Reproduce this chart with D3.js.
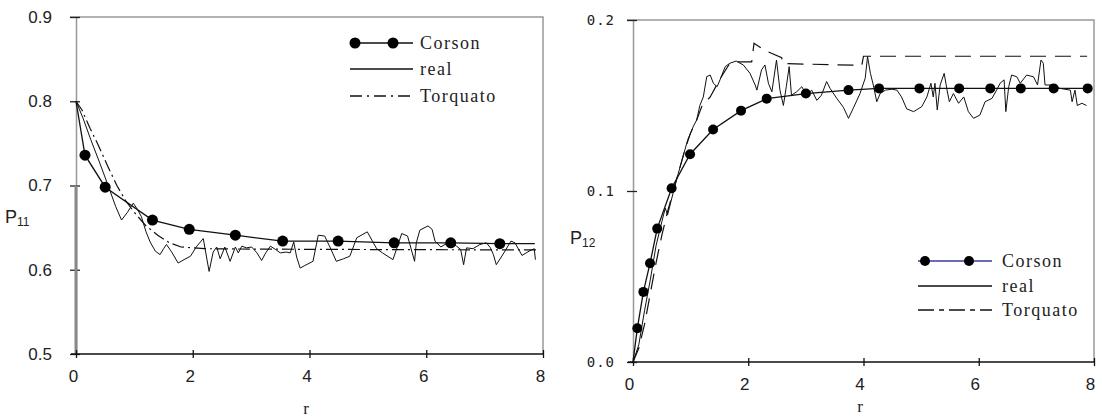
<!DOCTYPE html>
<html><head><meta charset="utf-8">
<script src="https://cdn.jsdelivr.net/npm/d3@7/dist/d3.min.js"></script>
<style>
html,body{margin:0;padding:0;background:#fff;}
svg{display:block;}
</style></head>
<body>
<svg id="chart" width="1102" height="419"></svg>
<script>
// ---------- DATA ----------
const xTicks = [0, 2, 4, 6, 8];
const leftYTicks = [0.5, 0.6, 0.7, 0.8, 0.9];
const rightYTicks = [0.0, 0.1, 0.2];
const legendNames = ["Corson", "real", "Torquato"];

// Left panel (P11)
const p11CorsonR = [0, 0.154, 0.5, 1.31, 1.94, 2.73, 3.54, 4.49, 5.45, 6.42, 7.26, 7.86];
const p11CorsonP = [0.8, 0.736, 0.698, 0.659, 0.648, 0.641, 0.634, 0.634, 0.632, 0.632, 0.631, 0.631];
const p11MarkR = [0.154, 0.5, 1.31, 1.94, 2.73, 3.54, 4.49, 5.45, 6.42, 7.26];
const p11MarkP = [0.736, 0.698, 0.659, 0.648, 0.641, 0.634, 0.634, 0.632, 0.632, 0.631];
const p11RealR = [0, 0.12, 0.25, 0.4, 0.55, 0.68, 0.78, 0.88, 0.98, 1.05, 1.12, 1.2, 1.27, 1.36, 1.44, 1.5, 1.55, 1.63, 1.75, 1.85, 1.96, 2.07, 2.18, 2.28, 2.35, 2.41, 2.47, 2.55, 2.64, 2.73, 2.78, 2.84, 2.92, 3.01, 3.1, 3.18, 3.25, 3.33, 3.42, 3.5, 3.6, 3.67, 3.73, 3.78, 3.84, 3.92, 4.06, 4.15, 4.26, 4.37, 4.46, 4.58, 4.69, 4.81, 4.99, 5.07, 5.15, 5.25, 5.43, 5.58, 5.68, 5.8, 5.83, 5.89, 6.03, 6.1, 6.15, 6.25, 6.32, 6.42, 6.52, 6.59, 6.64, 6.69, 6.8, 6.92, 7.03, 7.1, 7.15, 7.2, 7.33, 7.45, 7.52, 7.64, 7.76, 7.85, 7.87];
const p11RealP = [0.8, 0.78, 0.755, 0.728, 0.7, 0.675, 0.659, 0.668, 0.679, 0.672, 0.663, 0.645, 0.633, 0.622, 0.618, 0.625, 0.63, 0.622, 0.608, 0.612, 0.616, 0.628, 0.637, 0.598, 0.621, 0.627, 0.613, 0.627, 0.61, 0.627, 0.62, 0.628, 0.626, 0.627, 0.62, 0.611, 0.62, 0.628, 0.624, 0.62, 0.621, 0.62, 0.633, 0.615, 0.602, 0.605, 0.61, 0.641, 0.64, 0.624, 0.61, 0.613, 0.616, 0.638, 0.645, 0.635, 0.625, 0.62, 0.612, 0.643, 0.64, 0.61, 0.632, 0.647, 0.652, 0.648, 0.634, 0.627, 0.63, 0.632, 0.628, 0.624, 0.606, 0.626, 0.625, 0.63, 0.632, 0.626, 0.618, 0.606, 0.62, 0.634, 0.632, 0.617, 0.622, 0.625, 0.612];
const p11TorqR = [0, 0.1, 0.24, 0.38, 0.55, 0.7, 0.85, 1.0, 1.2, 1.4, 1.6, 1.8, 2.2, 3.0, 5.0, 7.9];
const p11TorqP = [0.8, 0.79, 0.768, 0.748, 0.722, 0.7, 0.682, 0.668, 0.652, 0.641, 0.632, 0.627, 0.625, 0.6245, 0.624, 0.6235];

// Right panel (P12)
const p12CorsonR = [0, 0.075, 0.18, 0.295, 0.42, 0.67, 0.99, 1.39, 1.875, 2.32, 3.0, 3.74, 4.27, 4.97, 5.66, 6.2, 6.73, 7.3, 7.89];
const p12CorsonP = [0, 0.0197, 0.041, 0.0577, 0.078, 0.1016, 0.1215, 0.136, 0.147, 0.154, 0.157, 0.159, 0.160, 0.160, 0.160, 0.160, 0.160, 0.160, 0.160];
const p12MarkR = [0.075, 0.18, 0.295, 0.42, 0.67, 0.99, 1.39, 1.875, 2.32, 3.0, 3.74, 4.27, 4.97, 5.66, 6.2, 6.73, 7.3, 7.89];
const p12MarkP = [0.0197, 0.041, 0.0577, 0.078, 0.1016, 0.1215, 0.136, 0.147, 0.154, 0.157, 0.159, 0.160, 0.160, 0.160, 0.160, 0.160, 0.160, 0.160];
const p12RealR = [0, 0.1, 0.2, 0.3, 0.4, 0.5, 0.56, 0.6, 0.66, 0.75, 0.85, 0.95, 1.05, 1.105, 1.16, 1.22, 1.28, 1.34, 1.395, 1.46, 1.51, 1.6, 1.68, 1.79, 1.915, 2.03, 2.12, 2.15, 2.23, 2.29, 2.35, 2.41, 2.49, 2.55, 2.61, 2.66, 2.71, 2.75, 2.84, 2.93, 3.01, 3.1, 3.19, 3.27, 3.36, 3.42, 3.54, 3.65, 3.74, 3.83, 3.94, 4.03, 4.07, 4.12, 4.17, 4.23, 4.29, 4.38, 4.49, 4.58, 4.66, 4.75, 4.87, 5.01, 5.10, 5.17, 5.21, 5.24, 5.28, 5.33, 5.40, 5.45, 5.49, 5.56, 5.65, 5.74, 5.82, 5.91, 6.02, 6.11, 6.23, 6.31, 6.37, 6.44, 6.47, 6.52, 6.57, 6.66, 6.72, 6.83, 6.95, 7.02, 7.08, 7.12, 7.15, 7.27, 7.41, 7.59, 7.62, 7.67, 7.71, 7.79, 7.87];
const p12RealP = [0, 0.01, 0.03, 0.048, 0.068, 0.082, 0.09, 0.086, 0.094, 0.106, 0.118, 0.13, 0.138, 0.1415, 0.15, 0.155, 0.1669, 0.1678, 0.163, 0.161, 0.165, 0.1727, 0.1747, 0.176, 0.1737, 0.1688, 0.162, 0.159, 0.1708, 0.1737, 0.163, 0.158, 0.1766, 0.159, 0.150, 0.161, 0.1727, 0.156, 0.158, 0.161, 0.156, 0.159, 0.153, 0.156, 0.164, 0.16, 0.154, 0.149, 0.1425, 0.149, 0.157, 0.166, 0.1786, 0.1688, 0.162, 0.1522, 0.157, 0.159, 0.1595, 0.159, 0.155, 0.148, 0.1464, 0.1493, 0.155, 0.163, 0.155, 0.163, 0.1474, 0.162, 0.1688, 0.159, 0.1522, 0.157, 0.1513, 0.155, 0.1464, 0.1425, 0.1444, 0.1522, 0.1542, 0.159, 0.163, 0.165, 0.1464, 0.161, 0.1678, 0.1668, 0.163, 0.1678, 0.1668, 0.162, 0.1766, 0.1747, 0.162, 0.162, 0.160, 0.159, 0.1522, 0.159, 0.150, 0.1513, 0.150];
const p12TorqR = [0, 0.1, 0.2, 0.3, 0.4, 0.5, 0.6, 0.7, 0.8, 0.9, 1.0, 1.105, 1.2, 1.34, 1.5, 1.68, 1.8, 2.06, 2.1, 2.3, 2.58, 2.6, 3.97, 4.0, 7.88];
const p12TorqP = [0, 0.008, 0.022, 0.04, 0.058, 0.074, 0.088, 0.1, 0.112, 0.124, 0.134, 0.1415, 0.15, 0.155, 0.165, 0.1747, 0.1755, 0.1755, 0.1864, 0.182, 0.178, 0.1745, 0.1735, 0.1788, 0.1788];

// ---------- DRAWING ----------
const svg = d3.select("#chart");
const zip = (a, b) => a.map((v, i) => [v, b[i]]);

function panel(o) {
  const x = d3.scaleLinear().domain([0, 8]).range(o.xr);
  const y = d3.scaleLinear().domain(o.yd).range(o.yr);
  const g = svg.append("g");
  const [x0, x1] = o.xr, [yb, yt] = o.yr;

  // frame (top & right, gray)
  g.append("path").attr("d", `M${x0 - 6},${yt}H${x1}V${yb}`)
    .attr("fill", "none").attr("stroke", "#999").attr("stroke-width", 1.5);
  // y axis
  const ya = d3.axisLeft(y).tickValues(o.yTicks).tickSize(0).tickPadding(o.yPad).tickFormat(d3.format(".1f"));
  const yg = g.append("g").attr("transform", `translate(${x0},0)`).call(ya);
  yg.select(".domain").attr("stroke", "#999").attr("stroke-width", 1.5);
  yg.selectAll(".tick text").attr("font-family", o.yFont).attr("font-size", o.yFs)
    .attr("letter-spacing", o.yLs).attr("fill", "#222");
  yg.selectAll(".tick").append("line").attr("x1", -6).attr("x2", 4).attr("stroke", "#222").attr("stroke-width", 1.3);
  if (o.thickSeg) {
    g.append("line").attr("x1", x0).attr("x2", x0).attr("y1", y(o.thickSeg[0])).attr("y2", y(o.thickSeg[1]))
      .attr("stroke", "#888").attr("stroke-width", 3);
  }
  // x axis
  const xa = d3.axisBottom(x).tickValues(xTicks).tickSize(0).tickPadding(o.xPad).tickFormat(d3.format("d"));
  const xg = g.append("g").attr("transform", `translate(0,${yb})`).call(xa);
  xg.select(".domain").attr("stroke", "#111").attr("stroke-width", 1.5).attr("d", `M${x0 - 5},0H${x1}`);
  xg.selectAll(".tick text").attr("font-family", o.xFont).attr("font-size", o.xFs).attr("fill", "#222")
    .attr("dx", o.xDx);
  xg.selectAll(".tick").append("line").attr("y1", -4).attr("y2", 4).attr("stroke", "#111").attr("stroke-width", 1.3);

  // series
  const line = d3.line().x(d => x(d[0])).y(d => y(d[1]));
  g.append("path").datum(zip(o.torqR, o.torqP)).attr("d", line).attr("fill", "none")
    .attr("stroke", "#111").attr("stroke-width", 1.2).attr("stroke-dasharray", o.torqDash);
  g.append("path").datum(zip(o.realR, o.realP)).attr("d", line).attr("fill", "none")
    .attr("stroke", "#111").attr("stroke-width", 1);
  g.append("path").datum(zip(o.corR, o.corP)).attr("d", line).attr("fill", "none")
    .attr("stroke", "#111").attr("stroke-width", 1.3);
  g.selectAll(".mk").data(zip(o.mkR, o.mkP)).join("circle")
    .attr("cx", d => x(d[0])).attr("cy", d => y(d[1])).attr("r", o.mr).attr("fill", "#000");

  // axis titles
  g.append("text").attr("x", o.rLab[0]).attr("y", o.rLab[1]).attr("text-anchor", "middle")
    .attr("font-family", "Liberation Serif, Times New Roman, serif").attr("font-size", 17).attr("fill", "#222").text("r");
  const pl = g.append("text").attr("x", o.pLab[0]).attr("y", o.pLab[1])
    .attr("font-family", "Liberation Sans, Arial, sans-serif").attr("font-size", 18).attr("fill", "#222");
  pl.append("tspan").text("P");
  pl.append("tspan").attr("font-size", 12).attr("dy", 3).text(o.sub);

  // legend
  const L = o.leg;
  const lf = "Liberation Serif, Times New Roman, serif";
  g.append("line").attr("x1", L.x0).attr("x2", L.x1).attr("y1", L.y[0]).attr("y2", L.y[0])
    .attr("stroke", L.corColor).attr("stroke-width", 1.3);
  g.selectAll(".lm").data(L.mk).join("circle").attr("cx", d => d).attr("cy", L.y[0]).attr("r", o.mr).attr("fill", "#000");
  g.append("line").attr("x1", L.x0).attr("x2", L.x1).attr("y1", L.y[1]).attr("y2", L.y[1])
    .attr("stroke", "#111").attr("stroke-width", 1.3);
  g.append("line").attr("x1", L.x0).attr("x2", L.x1).attr("y1", L.y[2]).attr("y2", L.y[2])
    .attr("stroke", "#111").attr("stroke-width", 1.3).attr("stroke-dasharray", L.dash);
  legendNames.forEach((n, i) => {
    g.append("text").attr("x", L.tx).attr("y", L.y[i] + 6).attr("font-family", lf).attr("font-size", 18)
      .attr("letter-spacing", 1.5).attr("fill", "#222").text(n);
  });
}

panel({
  xr: [76, 543], yr: [354, 17], yd: [0.5, 0.9], yTicks: leftYTicks,
  yPad: 24, yFont: "Liberation Sans, Arial, sans-serif", yFs: 17, yLs: 0,
  xPad: 16, xFont: "Liberation Sans, Arial, sans-serif", xFs: 17, xDx: -3,
  thickSeg: [0.5, 0.7],
  corR: p11CorsonR, corP: p11CorsonP, mkR: p11MarkR, mkP: p11MarkP,
  realR: p11RealR, realP: p11RealP, torqR: p11TorqR, torqP: p11TorqP,
  torqDash: "12,4,2,4", mr: 5.5,
  rLab: [306, 414], pLab: [5, 223], sub: "11",
  leg: { x0: 350, x1: 413, mk: [355, 393], y: [43, 69, 96], tx: 420, dash: "12,5,2,5", corColor: "#111" }
});

panel({
  xr: [633, 1094], yr: [362, 20], yd: [0, 0.2], yTicks: rightYTicks,
  yPad: 18, yFont: "DejaVu Sans Mono, Liberation Mono, monospace", yFs: 14, yLs: 1,
  xPad: 16, xFont: "Liberation Sans, Arial, sans-serif", xFs: 17, xDx: -4,
  thickSeg: null,
  corR: p12CorsonR, corP: p12CorsonP, mkR: p12MarkR, mkP: p12MarkP,
  realR: p12RealR, realP: p12RealP, torqR: p12TorqR, torqP: p12TorqP,
  torqDash: "16,9", mr: 5,
  rLab: [860, 412], pLab: [570, 244], sub: "12",
  leg: { x0: 918, x1: 992, mk: [925, 969], y: [261, 286, 310], tx: 1002, dash: "16,5,5,5", corColor: "#3a3aa0" }
});
</script>
</body></html>
